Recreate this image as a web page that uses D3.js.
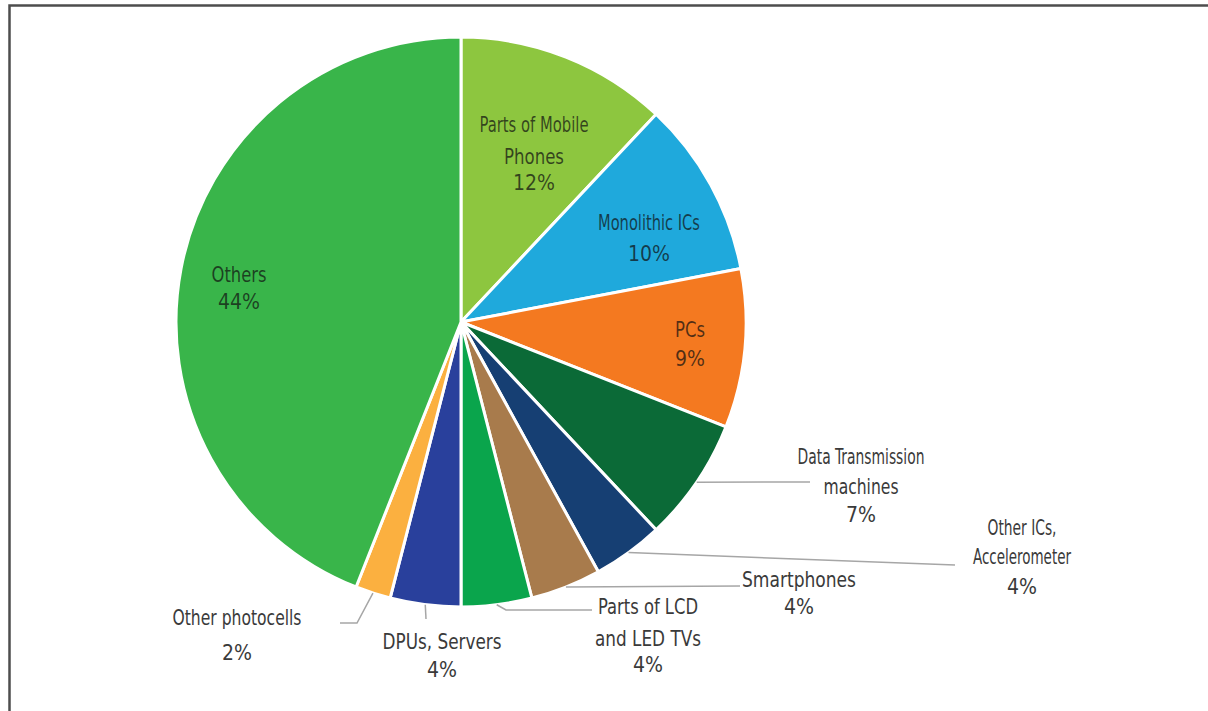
<!DOCTYPE html>
<html>
<head>
<meta charset="utf-8">
<script src="https://cdn.jsdelivr.net/npm/d3@7/dist/d3.min.js"></script>
<style>
  html, body { margin: 0; padding: 0; background: #ffffff; }
  svg { display: block; }
  text { font-family: "Liberation Sans Narrow", "Arial Narrow", "DejaVu Sans Condensed", sans-serif; }
</style>
</head>
<body>
<script>
// Export composition by product category, clockwise from 12 o'clock
const categories = [
  "Parts of Mobile Phones",
  "Monolithic ICs",
  "PCs",
  "Data Transmission machines",
  "Other ICs, Accelerometer",
  "Smartphones",
  "Parts of LCD and LED TVs",
  "DPUs, Servers",
  "Other photocells",
  "Others"
];
const shares = [12, 10, 9, 7, 4, 4, 4, 4, 2, 44];
const shareLabels = ["12%", "10%", "9%", "7%", "4%", "4%", "4%", "4%", "2%", "44%"];

const sliceColors = [
  "#8dc63f", "#1fa9dc", "#f47920", "#0b6a37", "#163f73",
  "#a87b4c", "#0aa54c", "#29409c", "#fbb040", "#39b54a"
];

const W = 1208, H = 711;
const cx = 461, cy = 322, R = 285;

// Label placement: text lines with their set widths, anchor x, line centres,
// and for outside labels the leader line elbows
const labelLayout = {
  "Parts of Mobile Phones":     { lines: [["Parts of Mobile", 109], ["Phones", 60]], x: 534, ys: [125, 157, 183], inside: true },
  "Monolithic ICs":             { lines: [["Monolithic ICs", 102]], x: 649, ys: [223, 254], inside: true },
  "PCs":                        { lines: [["PCs", 30]], x: 690, ys: [330, 359], inside: true },
  "Others":                     { lines: [["Others", 55]], x: 239, ys: [275, 302], inside: true },
  "Data Transmission machines": { lines: [["Data Transmission", 127], ["machines", 75]], x: 861, ys: [457, 487, 515], leader: [[810, 482]] },
  "Other ICs, Accelerometer":   { lines: [["Other ICs,", 69], ["Accelerometer", 98]], x: 1022, ys: [528, 557, 587], leader: [[955, 565]] },
  "Smartphones":                { lines: [["Smartphones", 114]], x: 799, ys: [580, 607], leader: [[740, 586]] },
  "Parts of LCD and LED TVs":   { lines: [["Parts of LCD", 100], ["and LED TVs", 106]], x: 648, ys: [607, 639, 665], leader: [[506, 610], [592, 610]] },
  "DPUs, Servers":              { lines: [["DPUs, Servers", 119]], x: 442, ys: [642, 670], leader: [[426, 619]] },
  "Other photocells":           { lines: [["Other photocells", 129]], x: 237, ys: [618, 653], leader: [[357, 623], [340, 623]] }
};

const rows = categories.map((c, i) => ({ category: c, value: shares[i], label: shareLabels[i], color: sliceColors[i] }));

const svg = d3.select("body").append("svg")
  .attr("width", W).attr("height", H);

svg.append("rect").attr("width", W).attr("height", H).attr("fill", "#ffffff");

// Frame edges along the top and left
svg.append("path")
  .attr("d", `M9.5,${H} V5.5 H${W}`)
  .attr("fill", "none")
  .attr("stroke", "#4d4d4d")
  .attr("stroke-width", 2.5);

const pie = d3.pie().value(d => d.value).sort(null).startAngle(0).endAngle(2 * Math.PI);
const arcs = pie(rows);

const arc = d3.arc().innerRadius(0).outerRadius(R);
const edgeArc = d3.arc().innerRadius(R).outerRadius(R);

const g = svg.append("g").attr("transform", `translate(${cx},${cy})`);

g.selectAll("path.slice")
  .data(arcs)
  .join("path")
  .attr("class", "slice")
  .attr("d", arc)
  .attr("fill", d => d.data.color)
  .attr("stroke", "#ffffff")
  .attr("stroke-width", 3)
  .attr("stroke-linejoin", "round");

// Leader lines from the slice rim out to the outside labels
const line = d3.line();
arcs.forEach(d => {
  const lay = labelLayout[d.data.category];
  if (!lay.leader) return;
  const [ex, ey] = edgeArc.centroid(d);
  const pts = [[cx + ex, cy + ey]].concat(lay.leader);
  svg.append("path")
    .attr("d", line(pts))
    .attr("fill", "none")
    .attr("stroke", "#a6a6a6")
    .attr("stroke-width", 1.5);
});

// Category names and shares
arcs.forEach(d => {
  const lay = labelLayout[d.data.category];
  const texts = lay.lines.concat([[d.data.label, null]]);
  const t = svg.append("g");
  texts.forEach(([s, w], k) => {
    const el = t.append("text")
      .attr("x", lay.x)
      .attr("y", lay.ys[k])
      .attr("text-anchor", "middle")
      .attr("dominant-baseline", "central")
      .attr("font-size", 21)
      .attr("fill", lay.inside ? "#111111" : "#3a3a3a")
      .attr("fill-opacity", lay.inside ? 0.72 : 1)
      .text(s);
    if (w) el.attr("textLength", w).attr("lengthAdjust", "spacingAndGlyphs");
  });
});
</script>
</body>
</html>
